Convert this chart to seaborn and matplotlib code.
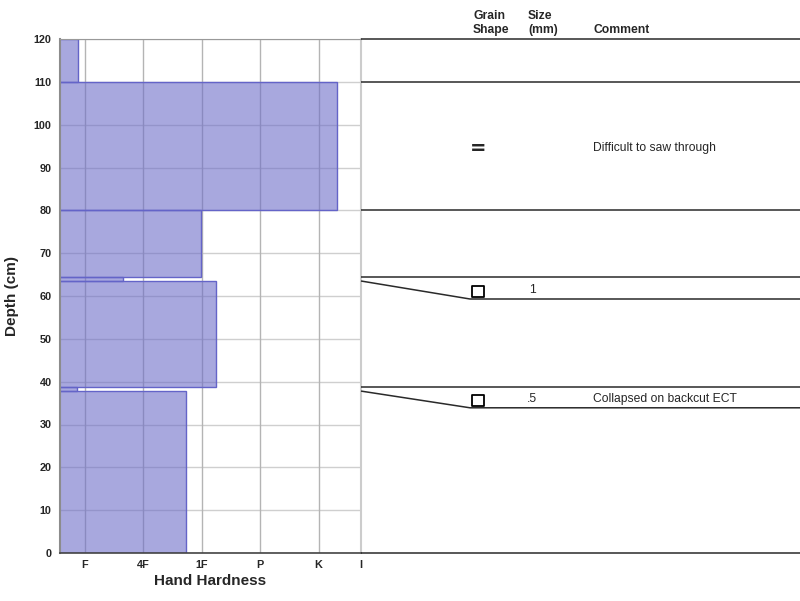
import numpy as np
import pandas as pd
import matplotlib
matplotlib.use("Agg")
import matplotlib.pyplot as plt
import seaborn as sns

# ---------------- data ----------------
layer_top = [120, 110, 80, 64.4, 63.5, 38.8, 37.8]
layer_bottom = [110, 80, 64.4, 63.5, 38.8, 37.8, 0]
hardness = [0.88, 5.32, 2.99, 1.65, 3.24, 0.86, 2.73]   # F=1, 4F=2, 1F=3, P=4, K=5
# depths at which each layer's row ends in the comment panel
display_bottom = [110, 80, 64.4, 59.3, 38.8, 33.9, 0]
grain_shape = ["", "=", "", "square", "", "square", ""]
grain_size = ["", "", "", "1", "", ".5", ""]
comments = ["", "Difficult to saw through", "", "", "", "Collapsed on backcut ECT", ""]

hard_ticks = [1, 2, 3, 4, 5, 5.726]
hard_labels = ["F", "4F", "1F", "P", "K", "I"]
depth_ticks = list(range(0, 121, 10))

# ---------------- style ----------------
sns.set_style("white")
plt.rcParams["font.family"] = ["Liberation Sans", "DejaVu Sans"]

fig = plt.figure(figsize=(8, 6.01), dpi=100)
W, H = 800, 601
ax = fig.add_axes([60 / W, (H - 553) / H, 301 / W, 514 / H])
axr = fig.add_axes([361 / W, (H - 553) / H, 439 / W, 514 / H])

# ---------------- hardness profile ----------------
df = pd.DataFrame({
    "mid": [(t + b) / 2 for t, b in zip(layer_top, layer_bottom)],
    "hardness": hardness,
})
edges = sorted(set(layer_top + layer_bottom))
ax.set_axisbelow(True)
for d in depth_ticks:
    ax.axhline(d, color="#cfcfcf", lw=1, zorder=0)
for x in hard_ticks[:-1]:
    ax.axvline(x, color="#b4b4b4", lw=1, zorder=0)
ax.axvline(hard_ticks[-1], color="#cccccc", lw=1.5, zorder=0, clip_on=False)
sns.histplot(data=df, y="mid", weights="hardness", bins=edges, ax=ax,
             color=(110 / 255, 110 / 255, 200 / 255), alpha=0.6,
             edgecolor=(100 / 255, 100 / 255, 200 / 255), linewidth=1)
ax.set_xlim(0.572, 5.726)
ax.set_ylim(0, 120)
ax.set_xticks(hard_ticks)
ax.set_xticklabels(hard_labels, fontsize=7.8, fontweight="bold")
ax.set_yticks(depth_ticks)
ax.set_yticklabels([str(d) for d in depth_ticks], fontsize=7.8, fontweight="bold")
ax.tick_params(axis="both", length=0)
ax.tick_params(axis="y", pad=6)
ax.tick_params(axis="x", pad=5)
ax.set_xlabel("Hand Hardness", fontsize=11, fontweight="bold", labelpad=3)
ax.set_ylabel("Depth (cm)", fontsize=11, fontweight="bold", labelpad=11)
ax.spines["left"].set_color("#8c8c8c")
ax.spines["left"].set_linewidth(1.5)
ax.spines["bottom"].set_color("#444444")
ax.spines["bottom"].set_linewidth(1.2)
ax.spines["top"].set_color("#999999")
ax.spines["right"].set_visible(False)

# ---------------- comment panel ----------------
axr.set_xlim(0, 439)
axr.set_ylim(0, 120)
axr.axis("off")
slant_end = 109
line_kw = dict(color="#2a2a2a", lw=1.1, solid_capstyle="butt", clip_on=False)
axr.plot([0, 439], [120, 120], **line_kw)
for real, disp in zip(layer_bottom, display_bottom):
    axr.plot([0, slant_end, 439], [real, disp, disp], **line_kw)

display_top = [120] + display_bottom[:-1]
for top, bot, shape, size, com in zip(display_top, display_bottom,
                                      grain_shape, grain_size, comments):
    mid = (top + bot) / 2 - 0.5
    if shape == "square":
        axr.scatter([117], [mid - 0.3], marker="s", s=64, facecolor="none",
                    edgecolor="black", linewidth=1.3, clip_on=False)
    elif shape:
        axr.text(117, mid, shape, fontsize=14, fontweight="bold",
                 family="DejaVu Sans", ha="center", va="center")
    if size:
        axr.text(171, mid, size, fontsize=8.7, ha="center", va="center")
    if com:
        axr.text(232, mid, com, fontsize=8.7, ha="left", va="center")

hdr = dict(fontsize=8.7, fontweight="bold", ha="left", va="baseline", clip_on=False)
axr.text(112, 124.6, "Grain", **hdr)
axr.text(112, 121.4, "Shape", **hdr)
axr.text(167, 124.6, "Size", **hdr)
axr.text(167, 121.4, "(mm)", **hdr)
axr.text(232, 121.4, "Comment", **hdr)

fig.savefig("out.png", dpi=100)
